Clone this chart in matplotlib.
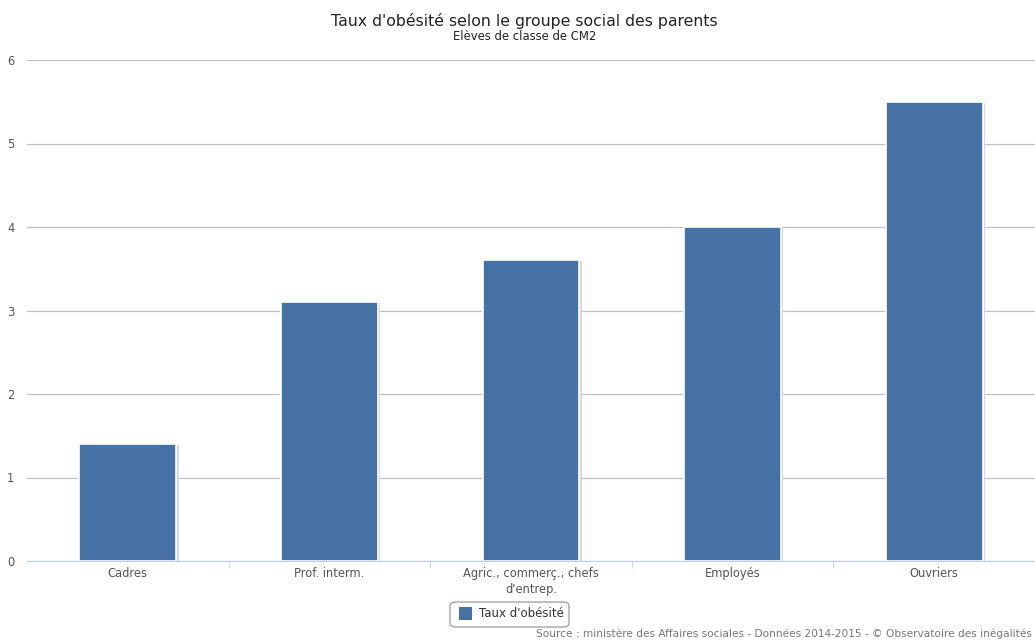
import matplotlib.pyplot as plt
from matplotlib.patches import FancyBboxPatch, Rectangle

categories = ["Cadres", "Prof. interm.", "Agric., commerç., chefs\nd'entrep.", "Employés", "Ouvriers"]
values = [1.4, 3.1, 3.6, 4.0, 5.5]
series_name = "Taux d'obésité"

title = "Taux d'obésité selon le groupe social des parents"
subtitle = "Elèves de classe de CM2"
source = "Source : ministère des Affaires sociales - Données 2014-2015 - © Observatoire des inégalités"

bar_color = "#4571a4"
W, H = 1035, 641

fig = plt.figure(figsize=(W / 100, H / 100), dpi=100)
ax = fig.add_axes([27 / W, (H - 561) / H, (W - 27) / W, 501 / H])

x = list(range(len(values)))
# soft shadow behind bars
for xi, v in zip(x, values):
    ax.add_patch(Rectangle((xi - 0.24 + 0.012, 0), 0.48, v - 0.01, facecolor="#d8d8d8",
                           edgecolor="none", zorder=2))
ax.bar(x, values, width=0.48, color=bar_color, edgecolor="white", linewidth=1.2, zorder=3)

ax.set_xlim(-0.5, len(values) - 0.5)
ax.set_ylim(0, 6)
ax.set_yticks(range(7))
ax.yaxis.grid(True, color="#c0c0c0", linewidth=0.9)
ax.set_axisbelow(True)
for s in ["top", "right", "left"]:
    ax.spines[s].set_visible(False)
ax.spines["bottom"].set_color("#c0d0e0")
ax.tick_params(axis="y", length=0, labelsize=8.3, labelcolor="#555555", pad=9)

ax.set_xticks(x)
ax.set_xticklabels(categories, fontsize=8.3, color="#555555", linespacing=1.35)
ax.tick_params(axis="x", length=0, pad=4)
# boundary ticks between categories
ax.set_xticks([i + 0.5 for i in range(len(values) - 1)], minor=True)
ax.tick_params(axis="x", which="minor", length=5, color="#c0d0e0", direction="out")

fig.text(524 / W, 1 - 21 / H, title, ha="center", va="center", fontsize=11.3, color="#222222")
fig.text(525 / W, 1 - 37 / H, subtitle, ha="center", va="center", fontsize=8.4, color="#222222")

# legend box
leg = FancyBboxPatch((450 / W, 1 - 627 / H), 119 / W, 25 / H,
                     boxstyle="round,pad=0,rounding_size=0.006", transform=fig.transFigure,
                     facecolor="white", edgecolor="#999999", linewidth=0.9)
fig.patches.append(leg)
fig.patches.append(Rectangle((459 / W, 1 - 620 / H), 13 / W, 13 / H, transform=fig.transFigure,
                             facecolor=bar_color, edgecolor="none"))
fig.text(479 / W, 1 - 613.5 / H, series_name, ha="left", va="center", fontsize=8.5, color="#333333")

fig.text(1032 / W, 1 - 634 / H, source, ha="right", va="center", fontsize=7.6, color="#777777")

plt.savefig("out.png", dpi=100)
